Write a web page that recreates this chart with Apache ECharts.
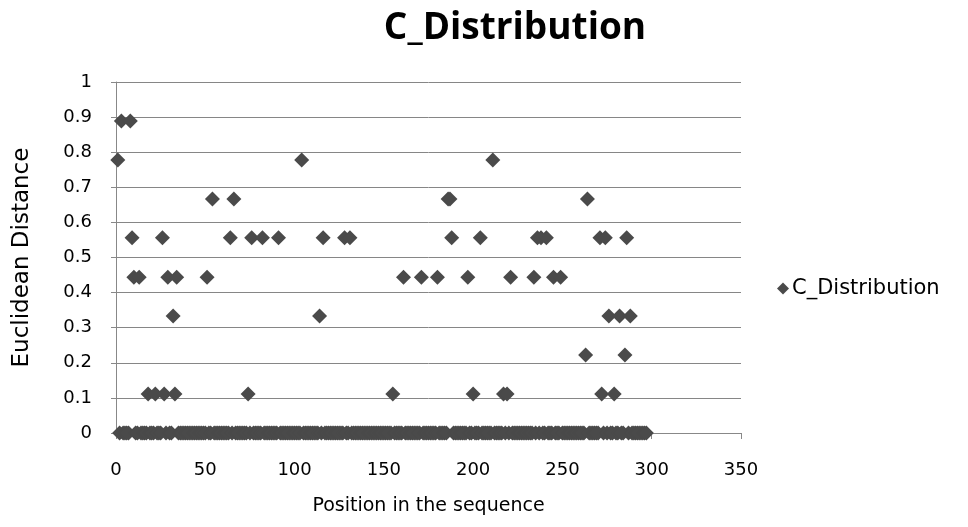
<!DOCTYPE html>
<html>
<head>
<meta charset="utf-8">
<script src="https://cdn.jsdelivr.net/npm/echarts@6/dist/echarts.min.js"></script>
<style>html,body{margin:0;padding:0;background:#fff}#c{width:968px;height:527px}</style>
</head>
<body>
<div id="c"></div>
<script>
const chartTitle = "C_Distribution";
const seriesName = "C_Distribution";
const xAxisName = "Position in the sequence";
const yAxisName = "Euclidean Distance";
const startPosition = 1;
// Euclidean distance at each sequence position (position = startPosition + index)
const distances = [
  0.778, 0, 0.889, 0, 0, 0, 0, 0.889, 0.556, 0.444,
  0, 0, 0.444, 0, 0, 0, 0, 0.111, 0, 0,
  0, 0.111, 0, 0, 0, 0.556, 0.111, 0, 0.444, 0,
  0, 0.333, 0.111, 0.444, 0, 0, 0, 0, 0, 0,
  0, 0, 0, 0, 0, 0, 0, 0, 0, 0,
  0.444, 0, 0, 0.667, 0, 0, 0, 0, 0, 0,
  0, 0, 0, 0.556, 0, 0.667, 0, 0, 0, 0,
  0, 0, 0, 0.111, 0, 0.556, 0, 0, 0, 0,
  0, 0.556, 0, 0, 0, 0, 0, 0, 0, 0,
  0.556, 0, 0, 0, 0, 0, 0, 0, 0, 0,
  0, 0, 0, 0.778, 0, 0, 0, 0, 0, 0,
  0, 0, 0, 0.333, 0, 0.556, 0, 0, 0, 0,
  0, 0, 0, 0, 0, 0, 0, 0.556, 0, 0,
  0.556, 0, 0, 0, 0, 0, 0, 0, 0, 0,
  0, 0, 0, 0, 0, 0, 0, 0, 0, 0,
  0, 0, 0, 0, 0.111, 0, 0, 0, 0, 0,
  0.444, 0, 0, 0, 0, 0, 0, 0, 0, 0,
  0.444, 0, 0, 0, 0, 0, 0, 0, 0, 0.444,
  0, 0, 0, 0, 0, 0.667, 0.667, 0.556, 0, 0,
  0, 0, 0, 0, 0, 0, 0.444, 0, 0, 0.111,
  0, 0, 0, 0.556, 0, 0, 0, 0, 0, 0,
  0.778, 0, 0, 0, 0, 0, 0.111, 0, 0.111, 0,
  0.444, 0, 0, 0, 0, 0, 0, 0, 0, 0,
  0, 0, 0, 0.444, 0, 0.556, 0, 0.556, 0, 0,
  0.556, 0, 0, 0, 0.444, 0, 0, 0, 0.444, 0,
  0, 0, 0, 0, 0, 0, 0, 0, 0, 0,
  0, 0, 0.222, 0.667, 0, 0, 0, 0, 0, 0,
  0.556, 0.111, 0, 0.556, 0, 0.333, 0, 0, 0.111, 0,
  0, 0.333, 0, 0, 0.222, 0.556, 0, 0.333, 0, 0,
  0, 0, 0, 0, 0, 0, 0
];
const points = distances.map((v, i) => [startPosition + i, v]);

const chart = echarts.init(document.getElementById('c'), null, {renderer: 'canvas'});
const axisFont = '"DejaVu Sans", Verdana, sans-serif';
chart.setOption({
  animation: false,
  backgroundColor: '#ffffff',
  title: {
    text: chartTitle,
    left: 510, top: 5, textAlign: 'center',
    textStyle: {fontFamily: '"Open Sans", "Liberation Sans", sans-serif', fontWeight: 'bold', fontSize: 37, color: '#000'}
  },
  legend: {
    data: [{name: seriesName, icon: 'diamond'}],
    left: 772, top: 273, itemWidth: 12, itemHeight: 12, itemGap: 3,
    textStyle: {fontFamily: axisFont, fontSize: 21, color: '#000', padding: [0,0,0,-2]}
  },
  grid: {left: 116, right: 227, top: 82, bottom: 94, containLabel: false},
  xAxis: {
    type: 'value', min: 0, max: 350, interval: 50,
    name: xAxisName, nameLocation: 'middle', nameGap: 64,
    nameTextStyle: {fontFamily: axisFont, fontSize: 19, color: '#000'},
    axisLine: {show: true, onZero: false, lineStyle: {color: '#888', width: 1}},
    axisTick: {show: true, inside: false, length: 6, lineStyle: {color: '#888'}},
    axisLabel: {fontFamily: axisFont, fontSize: 18, color: '#000', margin: 28},
    splitLine: {show: false}
  },
  yAxis: {
    type: 'value', min: 0, max: 1, interval: 0.1,
    name: yAxisName, nameLocation: 'middle', nameGap: 82, nameRotate: 90,
    nameTextStyle: {fontFamily: axisFont, fontSize: 23, color: '#000'},
    axisLine: {show: true, lineStyle: {color: '#888', width: 1}},
    axisTick: {show: true, inside: false, length: 5, lineStyle: {color: '#888'}},
    axisLabel: {fontFamily: axisFont, fontSize: 18, color: '#000', margin: 24},
    splitLine: {show: true, lineStyle: {color: '#868686', width: 1}}
  },
  series: [{
    name: seriesName,
    type: 'scatter',
    symbol: 'diamond',
    symbolSize: 15,
    itemStyle: {color: '#4a4a4a', opacity: 1},
    data: points
  }]
});
</script>
</body>
</html>
